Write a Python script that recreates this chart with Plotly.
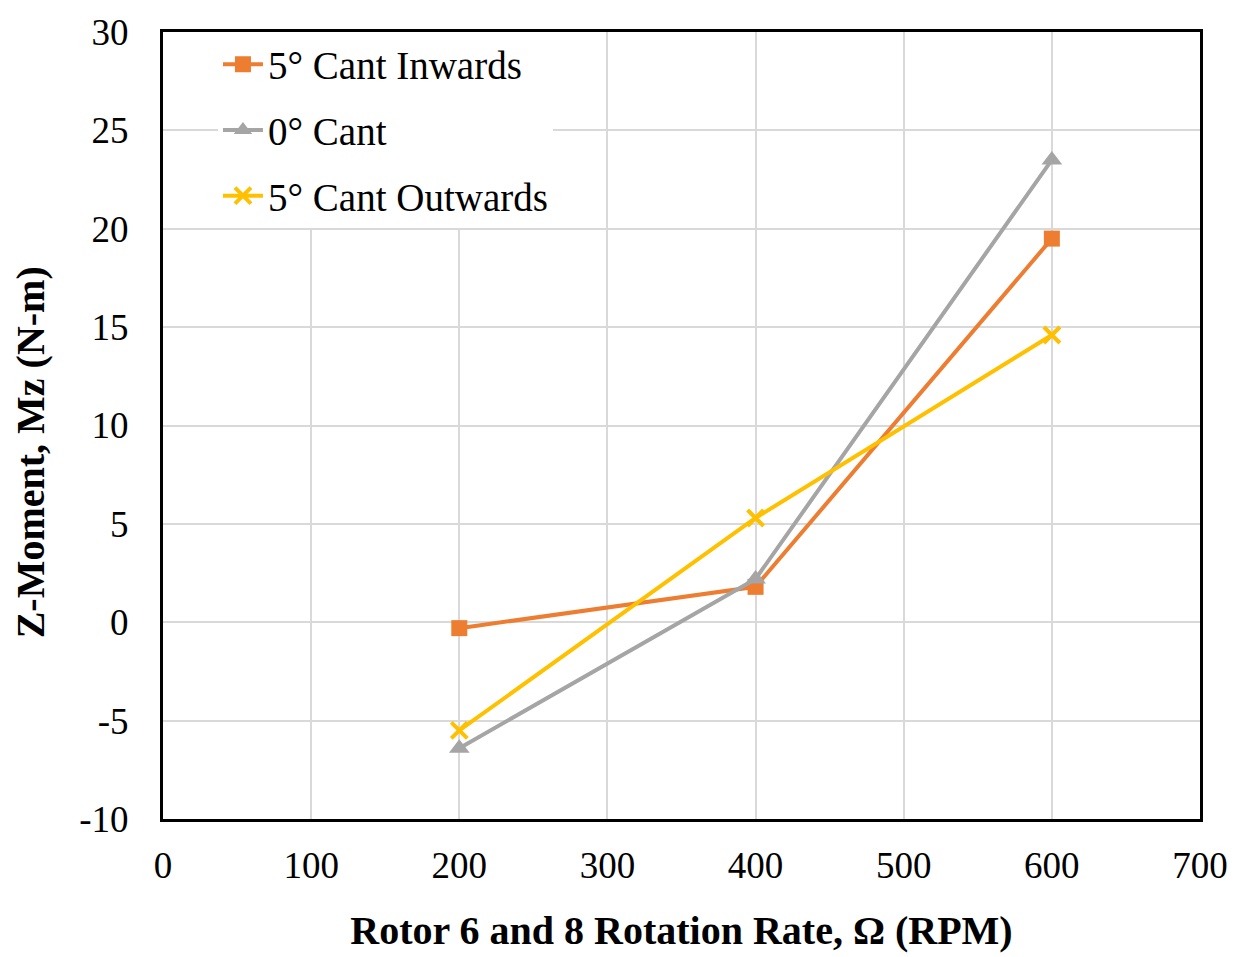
import plotly.graph_objects as go

rpm = [200, 400, 600]
cant_inwards = [-0.3, 1.8, 19.5]
cant_zero = [-6.4, 2.2, 23.5]
cant_outwards = [-5.5, 5.3, 14.6]

x_ticks = [0, 100, 200, 300, 400, 500, 600, 700]
y_ticks = [-10, -5, 0, 5, 10, 15, 20, 25, 30]
y_tick_text = ["-10", "-5", "0", "5", "10", "15", "20", "25", "30"]

FONT = "Liberation Serif"

series = [
    ("5° Cant Inwards", cant_inwards, "#ED7D31", dict(symbol="square", size=16)),
    ("0° Cant", cant_zero, "#A5A5A5", dict(symbol="triangle-up", size=18)),
    ("5° Cant Outwards", cant_outwards, "#FFC000",
     dict(symbol="x-thin", size=16, line=dict(width=4, color="#FFC000"))),
]

fig = go.Figure()
for i, (name, vals, color, marker) in enumerate(series):
    fig.add_trace(go.Scatter(
        x=rpm, y=vals, name=name, mode="lines+markers",
        line=dict(color=color, width=4),
        marker=dict(color=color, **marker),
        legendgroup=f"g{i}",
    ))

axis_common = dict(
    showgrid=True, gridcolor="#D9D9D9", gridwidth=1.5,
    zeroline=False, showline=True, linecolor="black", linewidth=3,
    mirror=True, ticks="", tickfont=dict(family=FONT, size=37, color="black"),
)

fig.update_layout(
    width=1243, height=957,
    margin=dict(l=163, r=43, t=27, b=138),
    paper_bgcolor="white", plot_bgcolor="white",
    font=dict(family=FONT, color="black"),
    xaxis=dict(range=[0, 700], tickvals=x_ticks, ticklabelstandoff=12,
               title=dict(text="<b>Rotor 6 and 8 Rotation Rate, Ω (RPM)</b>",
                          font=dict(family=FONT, size=40), standoff=31),
               **axis_common),
    yaxis=dict(range=[-10, 30], tickvals=y_ticks, ticktext=y_tick_text,
               ticklabelstandoff=24, **axis_common),
    legend=dict(
        x=0.053, y=0.9995, xanchor="left", yanchor="top",
        bgcolor="white", borderwidth=0,
        font=dict(family=FONT, size=39, color="black"),
        traceorder="grouped", tracegroupgap=12, itemwidth=40,
    ),
    showlegend=True,
    annotations=[dict(
        text="<b>Z-Moment, Mz (N-m)</b>", textangle=-90,
        xref="paper", yref="paper", x=(30 - 163) / 1037,
        y=(957 - 450 - 138) / 792, xanchor="center", yanchor="middle",
        showarrow=False, font=dict(family=FONT, size=40, color="black"),
    )],
)

fig.write_html("out.html")
